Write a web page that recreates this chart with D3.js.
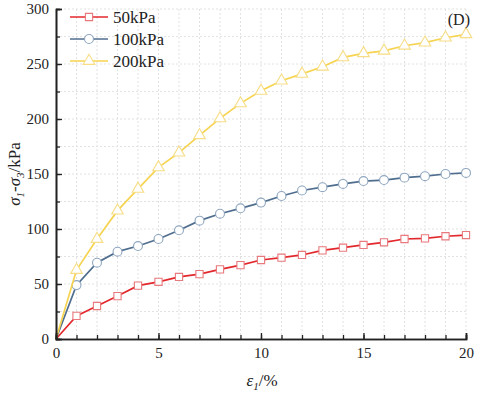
<!DOCTYPE html>
<html><head><meta charset="utf-8">
<script src="https://cdn.jsdelivr.net/npm/d3@7"></script>
<style>body{margin:0;background:#fff}svg{display:block}svg text{font-family:"Liberation Serif","Times New Roman","DejaVu Serif",serif !important;fill:#222}</style>
</head><body><svg id="c" width="479" height="394"></svg>
<script>
const strain = d3.range(0,21);
const s50  = [0,21,30,39,48.5,52,56.4,59,63.3,67.2,71.8,73.9,76.4,80.6,83,85.5,87.9,90.9,91.5,93.4,94.5];
const s100 = [0,49,69.4,79.4,84.5,90.9,98.8,107.6,113.9,118.8,124,130,135,138,141,143.6,144.5,146.7,148,150,151];
const s200 = [0,62.7,90.9,116.7,136.5,156,169.4,185.2,200.6,214.2,225.6,234.8,241,247.5,256,259.7,262,266.6,269.4,273.9,277];
const seriesNames = ["50kPa","100kPa","200kPa"];
const xTicks = [0,5,10,15,20];
const yTicks = [0,50,100,150,200,250,300];

const FONT = '"Liberation Serif","Times New Roman",serif';
const svg = d3.select("#c");
const x = d3.scaleLinear().domain([0,20]).range([56, 466]);
const y = d3.scaleLinear().domain([0,300]).range([339, 9]);

// grid
const g = svg.append("g");
g.selectAll("line.vx").data(d3.range(1,21)).enter().append("line")
 .attr("x1",d=>x(d)).attr("x2",d=>x(d)).attr("y1",y(0)).attr("y2",y(300))
 .attr("stroke","#e2e2e2").attr("stroke-dasharray","2,2");
g.selectAll("line.hy").data(d3.range(25,301,25)).enter().append("line")
 .attr("x1",x(0)).attr("x2",x(20)).attr("y1",d=>y(d)).attr("y2",d=>y(d))
 .attr("stroke","#e2e2e2").attr("stroke-dasharray","2,2");

const cols = ["#e3282d","#4f6e8e","#f6d451"];
const mcol = ["#e8797c","#8ea6bf","#f6dd86"];
const data = [s50,s100,s200];
const line = d3.line().x((d,i)=>x(strain[i])).y(d=>y(d));
const sym = [d3.symbolSquare, d3.symbolCircle, d3.symbolTriangle];
const symSize = [52, 62, 58];

data.forEach((s,k)=>{
  svg.append("path").attr("d",line(s)).attr("fill","none").attr("stroke",cols[k]).attr("stroke-width",1.7);
  svg.selectAll(null).data(s.map((v,i)=>({v,i})).filter(p=>p.i>0)).enter().append("path")
   .attr("transform",p=>`translate(${x(strain[p.i])},${y(p.v)})`)
   .attr("d",d3.symbol().type(sym[k]).size(symSize[k]))
   .attr("fill","#fff").attr("stroke",mcol[k]).attr("stroke-width",1.1);
});

// axes
const xa = svg.append("g").attr("transform",`translate(0,${y(0)})`)
 .call(d3.axisBottom(x).tickValues(xTicks).tickSize(-6).tickPadding(8).tickFormat(d3.format("d")));
const xm = svg.append("g").attr("transform",`translate(0,${y(0)})`)
 .call(d3.axisBottom(x).tickValues(d3.range(0,21)).tickSize(-4).tickFormat(""));
const ya = svg.append("g").attr("transform",`translate(${x(0)},0)`)
 .call(d3.axisLeft(y).tickValues(yTicks).tickSize(-6).tickPadding(7));
const ym = svg.append("g").attr("transform",`translate(${x(0)},0)`)
 .call(d3.axisLeft(y).tickValues(d3.range(0,301,25)).tickSize(-4).tickFormat(""));
[xa,xm,ya,ym].forEach(a=>{a.attr("font-family",FONT).attr("font-size",15);
 a.select(".domain").attr("stroke","#222").attr("stroke-width",1.6);
 a.selectAll(".tick line").attr("stroke","#222").attr("stroke-width",1.3);
 a.selectAll("text").attr("fill","#222");});

// legend
const lg = svg.append("g").attr("font-family",FONT);
seriesNames.forEach((n,k)=>{
  const yy = 17 + k*22;
  lg.append("line").attr("x1",70).attr("x2",108).attr("y1",yy).attr("y2",yy).attr("stroke",cols[k]).attr("stroke-width",1.7);
  lg.append("path").attr("transform",`translate(89,${yy})`).attr("d",d3.symbol().type(sym[k]).size(symSize[k]))
   .attr("fill","#fff").attr("stroke",mcol[k]).attr("stroke-width",1.1);
  lg.append("text").attr("x",113).attr("y",yy+6).attr("font-size",17).text(n);
});

svg.append("text").attr("x",470).attr("y",25).attr("text-anchor","end").attr("font-family",FONT).attr("font-size",16).text("(D)");

// axis titles
const xt = svg.append("text").attr("x",262).attr("y",386).attr("text-anchor","middle").attr("font-family",FONT).attr("font-size",17);
xt.append("tspan").style("font-style","italic").text("ε");
xt.append("tspan").style("font-style","italic").attr("font-size",11).attr("dy",4).text("1");
xt.append("tspan").attr("dy",-4).text("/%");

const yt = svg.append("text").attr("transform","translate(20,174) rotate(-90)").attr("text-anchor","middle").attr("font-family",FONT).attr("font-size",17);
yt.append("tspan").style("font-style","italic").text("σ");
yt.append("tspan").style("font-style","italic").attr("font-size",11).attr("dy",4).text("1");
yt.append("tspan").attr("dy",-4).text("-");
yt.append("tspan").style("font-style","italic").text("σ");
yt.append("tspan").style("font-style","italic").attr("font-size",11).attr("dy",4).text("3");
yt.append("tspan").attr("dy",-4).text("/kPa");
</script></body></html>
